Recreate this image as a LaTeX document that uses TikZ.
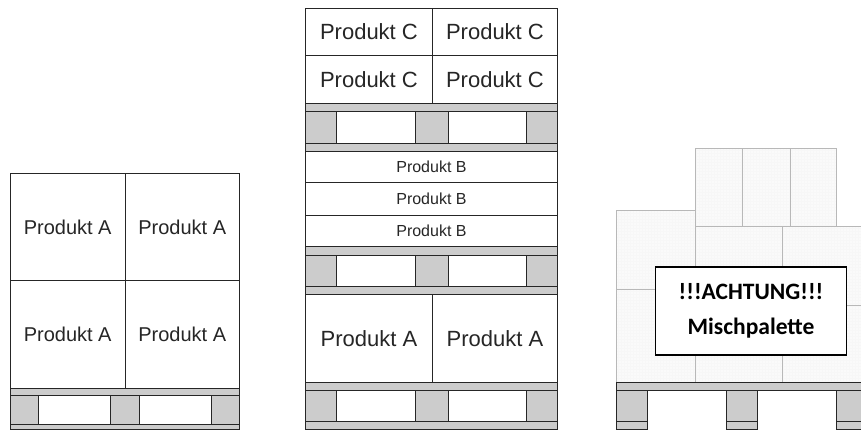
\documentclass[tikz,border=0pt]{standalone}
\usepackage{fontspec}
\setmainfont{Liberation Sans}
\newfontfamily\noticefont{Carlito}
\usetikzlibrary{positioning,patterns}
\definecolor{palgray}{gray}{0.8}
\tikzset{x=1pt, y=-1pt,
 ware/.style = {draw=black!85, line width=0.9pt, fill=white, inner sep=0pt, text=black!85},
 board/.style = {draw=black!85, line width=1pt, fill=palgray},
 ghost/.style = {draw=black!28, line width=0.9pt, preaction={fill=black!2}, pattern=grid, pattern color=black!3},
 notice/.style = {draw=black, line width=1.2pt, fill=white, align=center, font=\noticefont\bfseries\fontsize{23.5}{35}\selectfont}}
\newcommand{\wbox}[6][]{\node[ware, minimum width=#4pt-#2pt, minimum height=#5pt-#3pt, anchor=north west, font=\fontsize{#6}{#6}\selectfont] (#1) at (#2,#3) {Produkt \wname};}
\newcommand{\wname}{A}
\begin{document}
\begin{tikzpicture}

\useasboundingbox (0,0) rectangle (861,429);

% left pallet
\renewcommand{\wname}{A}
\wbox[a1]{10}{173}{124.5}{280}{20}
\wbox[a2]{124.5}{173}{239}{280}{20}
\wbox[a3]{10}{280}{124.5}{388}{20}
\wbox[a4]{124.5}{280}{239}{388}{20}
\draw[board] (10,388) rectangle (239,395);
\draw[board] (10,395) rectangle (38,424);
\draw[board] (110,395) rectangle (139,424);
\draw[board] (211,395) rectangle (239,424);
\draw[board] (10,424) rectangle (239,429);

% middle pallet
\renewcommand{\wname}{C}
\wbox[c1]{305}{8}{432}{55}{22}
\wbox[c2]{432}{8}{557}{55}{22}
\wbox[c3]{305}{55}{432}{103}{22}
\wbox[c4]{432}{55}{557}{103}{22}
\draw[board] (305,103) rectangle (557,111);
\draw[board] (305,111) rectangle (336,143);
\draw[board] (415,111) rectangle (448,143);
\draw[board] (526,111) rectangle (557,143);
\draw[board] (305,143) rectangle (557,151);
\renewcommand{\wname}{B}
\wbox[b1]{305}{151}{557}{182}{16}
\wbox[b2]{305}{182}{557}{215}{16}
\wbox[b3]{305}{215}{557}{246}{16}
\draw[board] (305,246) rectangle (557,255);
\draw[board] (305,255) rectangle (336,286);
\draw[board] (415,255) rectangle (448,286);
\draw[board] (526,255) rectangle (557,286);
\draw[board] (305,286) rectangle (557,294);
\renewcommand{\wname}{A}
\wbox[a5]{305}{294}{432}{382}{22}
\wbox[a6]{432}{294}{557}{382}{22}
\draw[board] (305,382) rectangle (557,390);
\draw[board] (305,390) rectangle (336,421);
\draw[board] (415,390) rectangle (448,421);
\draw[board] (526,390) rectangle (557,421);
\draw[board] (305,421) rectangle (557,429);

% right pallet
\draw[ghost] (695,148) rectangle (742,226);
\draw[ghost] (742,148) rectangle (790,226);
\draw[ghost] (790,148) rectangle (836,226);
\draw[ghost] (616,210) rectangle (695,289);
\draw[ghost] (616,289) rectangle (695,382);
\draw[ghost] (695,226) rectangle (782,382);
\draw[ghost] (782,226) rectangle (861,305);
\draw[ghost] (782,305) rectangle (861,382);
\draw[board] (616,382) rectangle (861,390);
\draw[board] (616,390) rectangle (647,421);
\draw[board] (726,390) rectangle (757,421);
\draw[board] (836,390) rectangle (861,421);
\draw[board] (616,421) rectangle (647,429);
\draw[board] (726,421) rectangle (757,429);
\draw[board] (836,421) rectangle (861,429);
\node[notice, minimum width=191pt, minimum height=88pt] (warn) at (751,311) {!!!ACHTUNG!!!\\Mischpalette};
\end{tikzpicture}
\end{document}
